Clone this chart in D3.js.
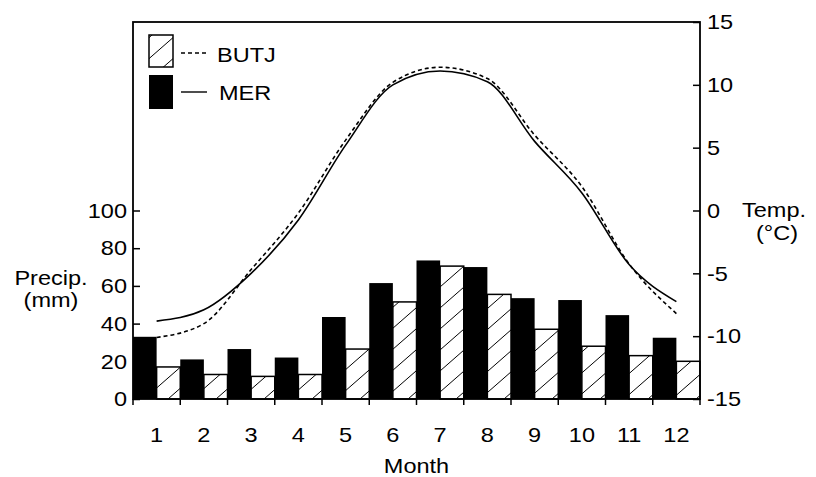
<!DOCTYPE html>
<meta charset="utf-8">
<style>
body { margin: 0; background: #fff; }
svg text { font-family: "Liberation Sans", Arial, Helvetica, sans-serif; font-size: 21px; fill: #000; }
.axis path, .axis line { stroke: #000; stroke-width: 1.5px; }
.axis .domain { display: none; }
</style>
<svg width="816" height="477"></svg>
<script src="https://d3js.org/d3.v7.min.js"></script>
<script>

// data
var months = [1, 2, 3, 4, 5, 6, 7, 8, 9, 10, 11, 12];
var precipMER  = [33, 21, 26.5, 22, 43.5, 61.5, 73.5, 70, 53.5, 52.5, 44.5, 32.5];
var precipBUTJ = [17, 13, 12, 13, 26.5, 51.5, 70.5, 55.5, 37, 28, 23, 20];
var tempMER  = [-8.8, -7.9, -5.0, -0.75, 5.2, 10.0, 11.1, 10.25, 5.5, 1.4, -4.3, -7.25];
var tempBUTJ = [-10.1, -9.0, -4.7, -0.2, 5.6, 10.2, 11.4, 10.5, 6.0, 1.9, -4.25, -8.2];
var precipTicks = [0, 20, 40, 60, 80, 100];
var tempTicks = [-15, -10, -5, 0, 5, 10, 15];

var pl = 133, pr = 700, pt = 22, pb = 399;

var svg = d3.select("svg");

var x = d3.scaleBand().domain(months).range([pl, pr]);
var xs = d3.scaleBand().domain(["MER", "BUTJ"]).range([0, x.bandwidth()]);
var yP = d3.scaleLinear().domain([0, 200]).range([pb, pt]);
var yT = d3.scaleLinear().domain([-15, 15]).range([pb, pt]);

// plain hyphen for negatives, like the original
var fmt = function(d) { return String(d); };

// the reference type is a bit wider than Liberation Sans
function widen(sel) {
  sel.each(function() {
    var l = this.getComputedTextLength();
    d3.select(this).attr("textLength", l * 1.12).attr("lengthAdjust", "spacingAndGlyphs");
  });
}

// hatch pattern
var hw = 24, hh = 21;
var pat = svg.append("defs").append("pattern")
    .attr("id", "hatch")
    .attr("patternUnits", "userSpaceOnUse")
    .attr("width", hw).attr("height", hh);
pat.append("rect").attr("width", hw).attr("height", hh).attr("fill", "#fff");
[0, 1, 2].forEach(function(n) {
  pat.append("line")
      .attr("x1", -hw).attr("y1", (n + 1) * hh)
      .attr("x2", hw * 2).attr("y2", (n - 2) * hh)
      .attr("stroke", "#000").attr("stroke-width", 1);
});

// bars
var g = svg.append("g");
months.forEach(function(m, i) {
  g.append("rect")
      .attr("x", x(m) + xs("BUTJ"))
      .attr("y", yP(precipBUTJ[i]))
      .attr("width", xs.bandwidth())
      .attr("height", pb - yP(precipBUTJ[i]))
      .attr("fill", "url(#hatch)")
      .attr("stroke", "#000")
      .attr("stroke-width", 1.5);
  g.append("rect")
      .attr("x", x(m) + xs("MER"))
      .attr("y", yP(precipMER[i]))
      .attr("width", xs.bandwidth())
      .attr("height", pb - yP(precipMER[i]))
      .attr("fill", "#000");
});

// temperature lines
var line = d3.line()
    .x(function(d, i) { return x(months[i]) + x.bandwidth() / 2; })
    .y(function(d) { return yT(d); })
    .curve(d3.curveMonotoneX);

svg.append("path").datum(tempBUTJ)
    .attr("d", line).attr("fill", "none")
    .attr("stroke", "#000").attr("stroke-width", 1.6)
    .attr("stroke-dasharray", "4,3");
svg.append("path").datum(tempMER)
    .attr("d", line).attr("fill", "none")
    .attr("stroke", "#000").attr("stroke-width", 1.6);

// frame
svg.append("rect")
    .attr("x", pl).attr("y", pt)
    .attr("width", pr - pl).attr("height", pb - pt)
    .attr("fill", "none").attr("stroke", "#000").attr("stroke-width", 1.8);

// axes
svg.append("g").attr("class", "axis")
    .attr("transform", "translate(" + pl + ",0)")
    .call(d3.axisRight(yP).tickValues(precipTicks).tickFormat(fmt).tickSize(7).tickPadding(-13))
    .selectAll("text").attr("text-anchor", "end").call(widen);

svg.append("g").attr("class", "axis")
    .attr("transform", "translate(" + pr + ",0)")
    .call(d3.axisLeft(yT).tickValues(tempTicks).tickFormat(fmt).tickSize(7).tickPadding(-14))
    .selectAll("text").attr("text-anchor", "start").call(widen);

var xAxis = svg.append("g").attr("class", "axis")
    .attr("transform", "translate(0," + pb + ")")
    .call(d3.axisBottom(x).tickSize(0).tickPadding(28));
xAxis.selectAll("text").call(widen);

xAxis.selectAll(".edge")
    .data(d3.range(months.length + 1))
    .enter().append("line")
    .attr("x1", function(i) { return pl + i * x.step(); })
    .attr("x2", function(i) { return pl + i * x.step(); })
    .attr("y1", 0).attr("y2", 6);

// axis titles
var titles = svg.append("g").attr("text-anchor", "middle");
titles.append("text").attr("x", 51).attr("y", 285).text("Precip.");
titles.append("text").attr("x", 51).attr("y", 307).text("(mm)");
titles.append("text").attr("x", 774).attr("y", 217).text("Temp.");
titles.append("text").attr("x", 777).attr("y", 240).text("(\u00b0C)");
titles.append("text").attr("x", (pl + pr) / 2).attr("y", 473).text("Month");
titles.selectAll("text").call(widen);

// legend
var leg = svg.append("g");
leg.append("rect").attr("x", 149).attr("y", 35).attr("width", 24).attr("height", 32)
    .attr("fill", "url(#hatch)").attr("stroke", "#000").attr("stroke-width", 1.5);
leg.append("rect").attr("x", 149).attr("y", 75).attr("width", 24).attr("height", 34)
    .attr("fill", "#000");
leg.append("line").attr("x1", 181).attr("x2", 207).attr("y1", 53).attr("y2", 53)
    .attr("stroke", "#000").attr("stroke-width", 1.4).attr("stroke-dasharray", "4,3");
leg.append("line").attr("x1", 181).attr("x2", 207).attr("y1", 92).attr("y2", 92)
    .attr("stroke", "#000").attr("stroke-width", 1.4);
leg.append("text").attr("x", 217).attr("y", 62).text("BUTJ");
leg.append("text").attr("x", 219).attr("y", 100).text("MER");
leg.selectAll("text").call(widen);

</script>
